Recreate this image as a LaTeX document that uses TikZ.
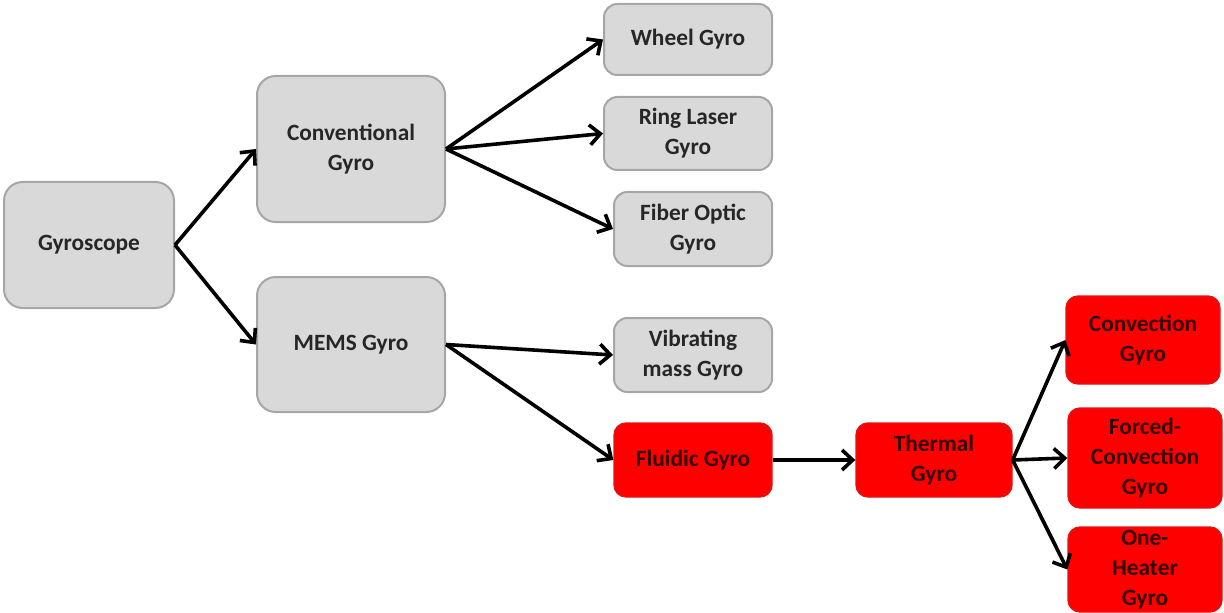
\documentclass[tikz,border=0pt]{standalone}
\usepackage{fontspec}
\setmainfont{Carlito}
\usetikzlibrary{arrows.meta}

\definecolor{boxgray}{RGB}{217,217,217}
\definecolor{edgegray}{RGB}{166,166,166}
\definecolor{boxred}{RGB}{255,0,0}
\definecolor{edgered}{RGB}{225,20,20}

\tikzset{every picture/.style={line width=0.75pt}}
\tikzset{
  graybox/.style={draw=edgegray,fill=boxgray,line width=1.5pt,rounded corners=10pt,align=center,
    font=\fontsize{17.5}{22.5}\selectfont\bfseries,text=black!85,inner sep=0pt},
  redbox/.style={draw=edgered,fill=boxred,line width=1pt,rounded corners=9pt,align=center,
    font=\fontsize{17.5}{22.5}\selectfont\bfseries,text=black!80!red,inner sep=0pt},
  branch/.style={line width=2.7pt,-{Straight Barb[length=8pt,width=15pt,line width=2.7pt]}}
}

\begin{document}
\begin{tikzpicture}[x=0.75pt,y=0.75pt,yscale=-1,xscale=1]
\useasboundingbox (0,0) rectangle (1224,613);

%Rounded Rect [id:gyroscope]
\node [graybox,rounded corners=14pt,minimum width=127.5pt,minimum height=94.5pt] (gyro) at (89,245) {Gyroscope};
%Rounded Rect [id:conventional]
\node [graybox,rounded corners=14pt,minimum width=141pt,minimum height=109.5pt] (conv) at (351,149) {Conventional\\Gyro};
%Rounded Rect [id:mems]
\node [graybox,rounded corners=14pt,minimum width=141pt,minimum height=101.25pt] (mems) at (351,344.5) {MEMS Gyro};

%Rounded Rect [id:wheel]
\node [graybox,minimum width=126pt,minimum height=53.25pt] (wheel) at (688,39.5) {Wheel Gyro};
%Rounded Rect [id:ringlaser]
\node [graybox,minimum width=126pt,minimum height=54.75pt] (ring) at (688,133.5) {Ring Laser\\Gyro};
%Rounded Rect [id:fiberoptic]
\node [graybox,minimum width=118.5pt,minimum height=55.5pt] (fiber) at (693,229) {Fiber Optic\\Gyro};
%Rounded Rect [id:vibrating]
\node [graybox,minimum width=118.5pt,minimum height=55.5pt] (vibr) at (693,355) {Vibrating\\mass Gyro};

%Rounded Rect [id:fluidic]
\node [redbox,minimum width=118.5pt,minimum height=55.5pt] (fluidic) at (693,460) {Fluidic Gyro};
%Rounded Rect [id:thermal]
\node [redbox,minimum width=117pt,minimum height=55.5pt] (thermal) at (934,460) {Thermal\\Gyro};
%Rounded Rect [id:convection]
\node [redbox,minimum width=115.5pt,minimum height=66pt] (convec) at (1143,340) {Convection\\Gyro};
%Rounded Rect [id:forced]
\node [redbox,minimum width=115.5pt,minimum height=75pt] (forced) at (1145,458) {Forced-\\Convection\\Gyro};
%Rounded Rect [id:oneheater]
\node [redbox,minimum width=115.5pt,minimum height=63.75pt] (oneheat) at (1145,569.5) {One-\\Heater\\Gyro};

%Straight Lines [id:arrows]
\draw [branch] (gyro.east) -- (conv.west);
\draw [branch] (gyro.east) -- (mems.west);
\draw [branch] (conv.east) -- (wheel.west);
\draw [branch] (conv.east) -- (ring.west);
\draw [branch] (conv.east) -- (fiber.west);
\draw [branch] (mems.east) -- (vibr.west);
\draw [branch] (mems.east) -- (fluidic.west);
\draw [branch] (fluidic.east) -- (thermal.west);
\draw [branch] (thermal.east) -- (convec.west);
\draw [branch] (thermal.east) -- (forced.west);
\draw [branch] (thermal.east) -- (oneheat.west);

\end{tikzpicture}
\end{document}
